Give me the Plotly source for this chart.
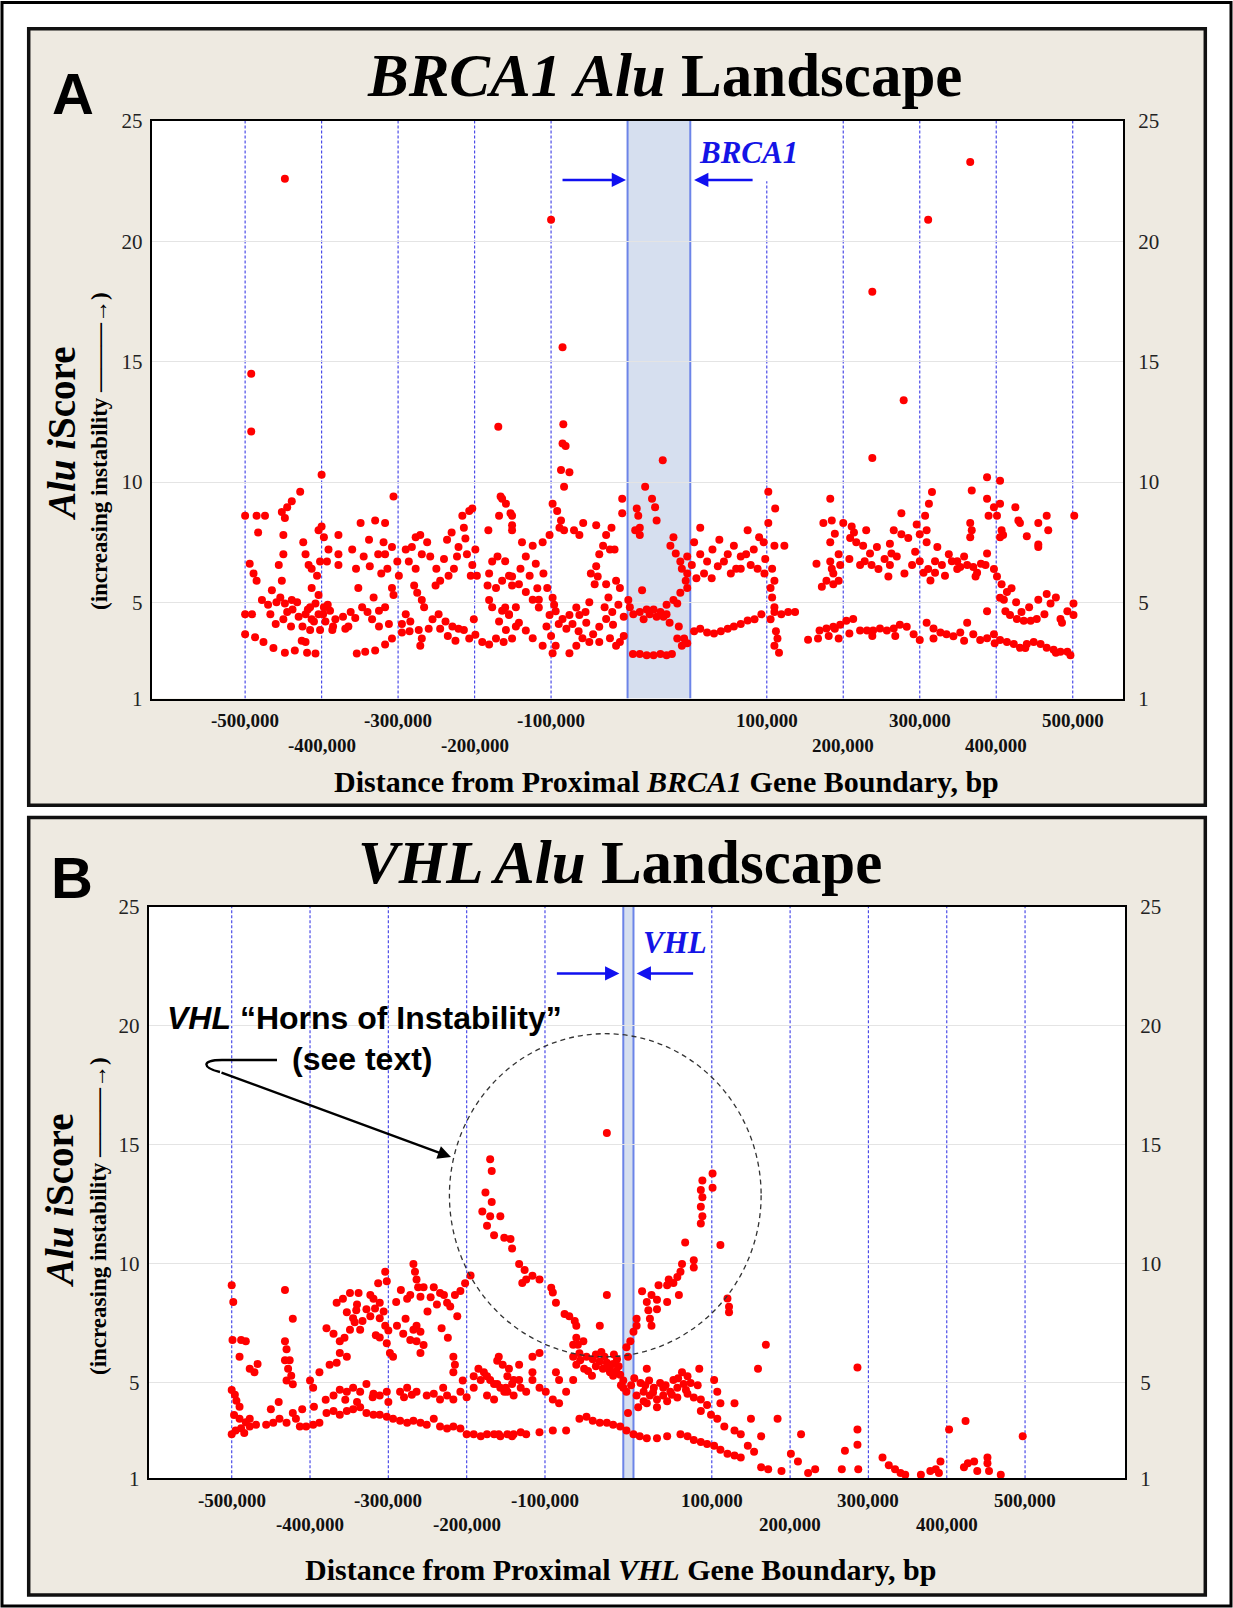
import plotly.graph_objects as go

W, H = 1233, 1608
MT, MB = 14, 12            # top / bottom figure margins (pixels)

# ---------------- DATA ----------------
# Positions are in kb relative to the start of the gene (gene body spans 0..gene length);
# scores are Alu iScore values.
BRCA1_GENE_KB = 82
VHL_GENE_KB = 13

tick_distances_bp = [-500000, -400000, -300000, -200000, -100000,
                     100000, 200000, 300000, 400000, 500000]
tick_labels = ["-500,000", "-400,000", "-300,000", "-200,000", "-100,000",
               "100,000", "200,000", "300,000", "400,000", "500,000"]
tick_row = [0, 1, 0, 1, 0, 0, 1, 0, 1, 0]   # 0 = upper label row, 1 = lower label row
y_ticks = [1, 5, 10, 15, 20, 25]

brca1_outliers = [(-448, 22.6), (-492, 14.5), (-492, 12.1), (-400, 10.3), (-169, 12.3), (-306, 9.4),
                  (-428, 9.6), (-100, 20.9), (-85, 15.6), (-84, 12.4), (-85, 11.6), (-81, 11.5),
                  (-87, 10.5), (-76, 10.4), (-83, 9.8), (46, 10.9), (448, 23.3), (393, 20.9),
                  (320, 17.9), (361, 13.4), (320, 11.0)]

brca1_up_far = [(-500, 8.6), (-485, 8.6), (-474, 8.6), (-483, 7.9), (-494, 6.6), (-489, 6.2), (-485, 5.9),
                (-500, 4.5), (-491, 4.5), (-500, 3.67), (-487, 3.55), (-476, 3.35), (-463, 3.1), (-448, 2.9),
                (-435, 3.0), (-426, 3.4), (-465, 5.5), (-454, 5.2), (-448, 4.95), (-439, 5.1), (-450, 4.3),
                (-467, 4.5), (-459, 5.0), (-452, 5.9), (-456, 6.55), (-450, 7.0), (-450, 7.8), (-448, 8.5),
                (-445, 8.95), (-439, 9.2), (-452, 8.75), (-424, 7.5), (-421, 7.0), (-417, 6.55), (-413, 6.4),
                (-413, 5.6), (-406, 6.1), (-404, 5.3), (-408, 4.95), (-415, 4.8), (-421, 4.5), (-413, 4.3),
                (-404, 4.5), (-397, 4.8), (-395, 4.2), (-389, 4.65), (-382, 4.3), (-386, 3.85), (-402, 3.85),
                (-415, 3.85), (-421, 3.35), (-408, 2.87), (-419, 2.9), (-404, 8.0), (-397, 7.7), (-391, 7.2),
                (-378, 7.8), (-378, 7.0), (-378, 6.55), (-393, 6.7), (-402, 6.7), (-400, 8.15),
                (-349, 8.3), (-330, 8.4), (-317, 8.3), (-338, 7.6), (-319, 7.5), (-317, 7.0), (-314, 6.4),
                (-308, 7.3), (-301, 6.7), (-299, 6.1), (-308, 5.6), (-306, 5.3), (-317, 4.8), (-325, 4.65),
                (-334, 4.3), (-347, 4.8), (-352, 5.6), (-356, 4.35), (-365, 4.0), (-369, 3.9), (-354, 2.87),
                (-343, 2.95), (-330, 3.0), (-317, 3.25), (-308, 3.5), (-295, 3.75), (-325, 4.0), (-312, 4.1),
                (-332, 5.2), (-438, 4.7), (-430, 4.4), (-425, 4.0), (-418, 4.7), (-410, 4.2), (-398, 4.5),
                (-392, 4.9), (-385, 4.0), (-440, 4.0), (-432, 5.0), (-445, 4.6), (-470, 4.9), (-478, 5.1),
                (-460, 4.1), (-372, 4.4), (-362, 4.6), (-340, 4.6), (-360, 7.2), (-355, 6.4), (-345, 6.9),
                (-337, 6.5), (-326, 7.0), (-322, 6.2)]

brca1_up_mid = [(-290, 7.2), (-286, 6.7), (-282, 7.3), (-277, 7.7), (-271, 7.8), (-269, 7.0), (-277, 6.4),
                (-279, 5.7), (-275, 5.4), (-269, 5.1), (-266, 4.8), (-290, 4.5), (-284, 4.2), (-273, 3.85),
                (-269, 3.5), (-271, 3.2), (-255, 4.3), (-247, 4.5), (-238, 4.2), (-229, 4.0), (-221, 3.9),
                (-251, 5.7), (-245, 5.9), (-234, 6.1), (-227, 6.4), (-223, 6.9), (-221, 7.3), (-214, 8.1),
                (-216, 8.6), (-207, 8.8), (-203, 8.9), (-212, 7.65), (-210, 7.0), (-203, 6.55), (-199, 7.2),
                (-205, 6.1), (-197, 6.1), (-214, 3.85), (-207, 3.5), (-199, 3.65), (-201, 4.3), (-190, 3.35),
                (-181, 3.25), (-182, 8.0), (-166, 9.4), (-159, 9.1), (-177, 6.7), (-170, 6.9), (-181, 6.2),
                (-183, 5.7), (-172, 5.6), (-164, 5.9), (-155, 6.1), (-151, 5.7), (-181, 5.1), (-177, 4.8),
                (-164, 4.65), (-155, 4.5), (-146, 4.8), (-168, 4.2), (-159, 3.85), (-146, 4.0), (-172, 3.5),
                (-162, 3.35), (-151, 3.5), (-168, 8.6), (-153, 8.7), (-151, 8.2), (-262, 7.5), (-258, 6.9),
                (-250, 6.4), (-240, 6.8), (-236, 7.6), (-230, 7.9), (-245, 3.9), (-235, 3.6), (-225, 3.4),
                (-260, 3.9), (-285, 3.8), (-295, 4.1)]

brca1_up_near = [(-164, 9.3), (-151, 8.6), (-151, 8.0), (-138, 7.5), (-124, 7.35), (-111, 7.5), (-102, 7.8),
                 (-98, 9.1), (-92, 8.8), (-87, 8.4), (-89, 8.1), (-83, 8.0), (-58, 8.3), (-41, 8.2), (-63, 7.8),
                 (-70, 8.0), (-21, 8.1), (-28, 7.8), (-32, 7.35), (-23, 7.2), (-17, 7.2), (-37, 7.0), (-41, 6.5),
                 (-39, 6.07), (-48, 6.2), (-43, 5.75), (-28, 5.75), (-15, 5.9), (-10, 5.6), (-160, 6.71),
                 (-151, 6.07), (-142, 5.75), (-133, 5.43), (-124, 5.11), (-116, 4.79), (-160, 4.79),
                 (-155, 4.47), (-142, 4.15), (-133, 3.83), (-124, 3.51), (-111, 3.2), (-98, 2.88), (-94, 3.2),
                 (-76, 2.88), (-67, 3.2), (-59, 3.51), (-50, 3.35), (-37, 3.35), (-23, 3.51), (-10, 3.35),
                 (-118, 5.59), (-116, 5.11), (-102, 4.47), (-94, 4.63), (-85, 4.31), (-76, 4.47), (-67, 4.79),
                 (-63, 4.47), (-54, 4.15), (-45, 3.67), (-37, 3.99), (-28, 4.31), (-19, 4.07), (-98, 5.19),
                 (-7, 9.3), (-7, 8.7), (-100, 3.6), (-96, 4.9), (-106, 4.0), (-140, 6.4), (-133, 6.9),
                 (-128, 6.1), (-120, 6.6), (-110, 6.2), (-105, 5.6), (-90, 4.1), (-80, 3.9), (-72, 4.1),
                 (-64, 3.8), (-55, 4.6), (-50, 5.0), (-30, 4.8), (-25, 5.2), (-20, 4.6), (-12, 4.9), (-5, 4.4),
                 (-5, 3.6), (-15, 3.2)]

brca1_intragenic = [(23, 9.8), (32, 9.3), (36, 8.95), (38, 8.4), (12, 8.9), (14, 8.6), (16, 8.1), (10, 8.0),
                    (16, 7.8), (1, 5.1), (3, 4.8), (7.5, 4.5), (16, 4.6), (25, 4.7), (34, 4.7), (43, 4.6),
                    (51, 4.5), (21, 4.3), (38, 4.4), (55, 4.15), (51, 4.9), (60, 5.1), (19, 5.5), (29, 4.5),
                    (47, 4.4), (7, 2.85), (16, 2.85), (25, 2.8), (34, 2.8), (43, 2.85), (51, 2.8), (58, 2.85),
                    (60, 7.7), (56, 7.35), (63, 7.03), (69, 6.7), (78, 6.9), (71, 6.4), (78, 6.2), (76, 5.9),
                    (69, 5.4), (78, 5.6), (65, 4.95), (67, 4.0), (74, 3.5), (71, 3.2), (78, 3.3), (65, 3.5)]

brca1_down_near = [(84, 6.55), (95, 8.1), (87, 7.5), (95, 7.0), (104, 6.7), (111, 7.2), (118, 6.5), (131, 7.0),
                   (139, 7.35), (148, 6.9), (157, 8.0), (155, 7.0), (161, 6.55), (170, 6.4), (179, 6.2),
                   (148, 6.4), (142, 6.4), (87, 3.8), (95, 3.9), (104, 3.75), (113, 3.7), (122, 3.8), (131, 3.9),
                   (139, 4.0), (148, 4.1), (157, 4.25), (166, 4.3), (175, 4.5), (192, 4.6), (201, 4.5),
                   (210, 4.6), (219, 4.6), (184, 9.6), (193, 8.9), (184, 8.3), (178, 7.5), (192, 7.35),
                   (205, 7.35), (180, 6.8), (189, 6.4), (192, 5.9), (187, 5.6), (189, 5.2), (192, 4.8),
                   (187, 4.3), (194, 3.8), (196, 3.5), (192, 3.2), (198, 2.9), (265, 9.3), (267, 8.4),
                   (271, 7.85), (265, 7.5), (247, 6.6), (254, 5.65), (267, 6.4), (276, 5.9), (271, 3.9),
                   (263, 3.6), (249, 3.5), (236, 3.45), (276, 3.5), (256, 8.3), (265, 6.7), (269, 6.2),
                   (260, 5.9), (269, 5.75), (276, 7.0), (278, 6.55), (90, 6.0), (100, 6.2), (110, 6.0),
                   (120, 7.6), (126, 6.7), (135, 6.2), (165, 7.2), (172, 7.7)]

brca1_down_far = [(358, 8.7), (389, 8.6), (394, 9.1), (470, 9.3), (479, 8.95), (487, 9.1), (472, 8.6),
                  (483, 8.6), (507, 8.95), (511, 8.4), (513, 8.3), (448, 8.3), (450, 8.0), (448, 7.7),
                  (489, 8.0), (491, 7.8), (487, 7.7), (522, 7.75), (537, 8.3), (548, 8.6), (550, 8.0),
                  (537, 7.4), (537, 7.3), (584, 8.6), (470, 10.2), (487, 10.05), (450, 9.65), (398, 9.58),
                  (282, 8.3), (293, 8.15), (291, 7.67), (299, 7.5), (308, 7.35), (317, 7.03), (310, 6.71),
                  (319, 6.55), (328, 6.39), (304, 6.55), (343, 7.43), (345, 7.03), (343, 6.55), (341, 6.07),
                  (348, 7.99), (358, 7.83), (367, 7.67), (378, 8.23), (382, 7.83), (391, 7.99), (391, 7.5),
                  (372, 6.55), (382, 6.71), (387, 6.23), (393, 6.39), (396, 5.91), (402, 6.71), (402, 6.23),
                  (411, 6.55), (424, 6.71), (431, 6.71), (431, 6.39), (435, 6.47), (444, 6.55), (452, 6.47),
                  (457, 6.23), (455, 6.07), (470, 7.03), (468, 6.55), (479, 6.39), (483, 6.07), (489, 5.75),
                  (496, 5.43), (502, 5.59), (492, 5.11), (470, 4.63), (487, 5.19), (494, 4.63), (500, 4.47),
                  (509, 4.31), (518, 4.23), (527, 4.23), (535, 4.31), (537, 5.11), (548, 5.35), (553, 4.95),
                  (566, 4.31), (575, 4.63), (583, 4.95), (583, 4.47), (568, 4.15), (251, 3.83), (260, 3.91),
                  (269, 3.99), (278, 4.07), (286, 4.23), (295, 4.31), (304, 3.83), (313, 3.83), (321, 3.83),
                  (330, 3.91), (339, 3.83), (348, 3.91), (356, 4.07), (365, 3.99), (374, 3.67), (382, 3.43),
                  (391, 4.15), (400, 3.91), (409, 3.75), (417, 3.67), (426, 3.59), (435, 3.75), (444, 4.15),
                  (452, 3.67), (461, 3.43), (470, 3.51), (479, 3.67), (487, 3.43), (496, 3.35), (505, 3.27),
                  (513, 3.11), (522, 3.27), (531, 3.35), (540, 3.27), (548, 3.11), (557, 3.03), (566, 2.95),
                  (575, 2.95), (579, 2.8), (290, 6.8), (296, 7.9), (312, 8.0), (326, 7.3), (336, 6.8),
                  (352, 6.9), (362, 6.2), (376, 7.1), (405, 7.3), (415, 6.1), (420, 7.0), (440, 6.9),
                  (462, 6.6), (508, 5.0), (515, 4.6), (525, 4.8), (545, 4.5), (560, 5.2), (290, 3.7),
                  (320, 3.6), (350, 3.6), (400, 3.5), (440, 3.4), (480, 3.3), (520, 3.1), (560, 2.9)]

vhl_outliers = [(-21, 15.5), (-21, 8.7), (-30, 7.4)]

vhl_up_far = [(-500, 9.1), (-498, 8.4), (-499, 6.8), (-488, 6.8), (-482, 6.75), (-490, 6.1), (-477, 5.6),
              (-471, 5.45), (-467, 5.8), (-500, 4.7), (-496, 4.5), (-494, 4.25), (-490, 4.0), (-497, 3.65),
              (-490, 3.5), (-482, 3.35), (-477, 3.5), (-500, 2.85), (-495, 3.0), (-488, 3.1), (-484, 2.9),
              (-477, 3.17), (-469, 3.25), (-456, 3.25), (-447, 3.33), (-439, 3.5), (-430, 3.33), (-422, 3.74),
              (-418, 3.5), (-413, 3.17), (-405, 3.17), (-396, 3.25), (-388, 3.33), (-379, 3.74), (-370, 3.82),
              (-362, 3.66), (-353, 3.82), (-345, 3.9), (-336, 3.98), (-328, 3.74), (-319, 3.66),
              (-432, 8.9), (-422, 7.7), (-432, 6.75), (-430, 6.42), (-432, 5.95), (-426, 5.95), (-428, 5.6),
              (-424, 5.3), (-430, 5.1), (-422, 4.95), (-400, 5.1), (-396, 4.8), (-379, 7.3), (-370, 7.07),
              (-362, 6.75), (-356, 6.9), (-349, 7.23), (-343, 7.55), (-336, 7.23), (-362, 6.26), (-353, 6.1),
              (-366, 5.85), (-375, 5.77), (-388, 5.45), (-366, 8.37), (-358, 8.54), (-349, 8.78), (-338, 8.78),
              (-353, 7.97), (-341, 8.05), (-345, 7.72), (-323, 8.7), (-319, 8.54), (-317, 8.13), (-323, 7.8),
              (-311, 8.37), (-313, 9.19), (-304, 9.67), (-302, 9.27), (-311, 7.72), (-304, 7.4), (-311, 6.91),
              (-302, 6.67), (-298, 6.26), (-294, 6.1), (-370, 4.47), (-362, 4.72), (-353, 4.63), (-345, 4.8),
              (-336, 4.63), (-328, 4.96), (-319, 4.55), (-311, 4.47), (-302, 4.63), (-311, 3.66),
              (-302, 3.58), (-340, 8.3), (-333, 7.6), (-328, 8.1), (-316, 7.0), (-306, 8.0), (-300, 7.2),
              (-450, 3.9), (-440, 4.2), (-410, 3.9), (-395, 4.0), (-380, 4.3), (-355, 4.3), (-340, 4.2),
              (-320, 4.4), (-300, 4.2)]

vhl_up_mid = [(-289, 7.4), (-281, 7.07), (-268, 7.23), (-259, 7.15), (-264, 6.75), (-255, 6.59), (-259, 6.26),
              (-264, 7.4), (-268, 10.0), (-266, 9.67), (-264, 9.35), (-262, 9.02), (-259, 8.62), (-276, 8.54),
              (-272, 8.7), (-255, 9.02), (-242, 9.02), (-234, 8.78), (-229, 8.7), (-225, 8.37), (-221, 8.21),
              (-215, 8.7), (-208, 8.86), (-202, 9.19), (-195, 9.51), (-217, 6.1), (-215, 5.77), (-217, 5.45),
              (-285, 4.63), (-276, 4.8), (-264, 4.63), (-251, 4.47), (-242, 4.55), (-234, 4.31), (-225, 4.47),
              (-217, 4.31), (-208, 4.63), (-191, 4.8), (-182, 5.12), (-174, 5.28), (-165, 4.96), (-157, 4.8),
              (-148, 4.63), (-140, 4.47), (-185, 5.6), (-178, 5.45), (-170, 5.12), (-161, 4.96), (-152, 4.63),
              (-161, 5.93), (-191, 5.28), (-174, 4.47), (-165, 4.31), (-148, 5.28), (-140, 5.12), (-131, 4.8),
              (-294, 3.5), (-285, 3.41), (-276, 3.33), (-268, 3.41), (-259, 3.33), (-251, 3.25), (-242, 3.5),
              (-234, 3.17), (-225, 3.09), (-217, 3.17), (-208, 3.09), (-200, 2.85), (-191, 2.85), (-182, 2.76),
              (-174, 2.85), (-165, 2.85), (-157, 2.76), (-148, 2.85), (-140, 2.85), (-131, 2.93),
              (-170, 14.4), (-168, 13.9), (-176, 13.0), (-168, 12.6), (-180, 12.2), (-170, 12.0), (-157, 12.0),
              (-174, 11.6), (-165, 11.2), (-152, 11.1), (-290, 8.4), (-284, 8.9), (-278, 7.7), (-272, 6.8),
              (-250, 8.0), (-246, 8.6), (-238, 8.3), (-232, 7.3), (-224, 6.9), (-212, 7.8), (-280, 4.4),
              (-270, 4.5), (-230, 4.8), (-205, 5.1), (-200, 4.4)]

vhl_up_near = [(-144, 11.05), (-142, 10.65), (-133, 10.0), (-126, 9.75), (-124, 9.35), (-116, 9.5), (-107, 9.35),
               (-129, 9.2), (-92, 9.0), (-90, 8.8), (-86, 8.37), (-75, 7.9), (-69, 7.8), (-62, 7.6), (-60, 7.4),
               (-60, 6.9), (-58, 6.6), (-56, 6.25), (-64, 6.6), (-51, 6.75), (-47, 6.1), (-39, 6.0), (-30, 5.9),
               (-21, 5.85), (-13, 5.8), (-9, 5.5), (-4, 5.35), (0, 5.1), (-26, 5.6), (-17, 5.45), (-13, 5.3),
               (-35, 5.7), (-8, 6.0), (-159, 6.1), (-154, 5.77), (-146, 5.6), (-133, 5.12), (-124, 4.63),
               (-116, 5.12), (-116, 5.45), (-107, 4.8), (-99, 4.63), (-90, 4.31), (-82, 4.15), (-73, 4.63),
               (-64, 5.12), (-60, 5.77), (-86, 5.45), (-82, 5.12), (-107, 6.26), (-116, 6.1), (-133, 5.77),
               (-142, 4.96), (-150, 4.8), (-64, 6.1), (0, 4.8), (-159, 2.85), (-142, 2.76), (-124, 2.85),
               (-107, 2.93), (-90, 3.0), (-73, 3.0), (-56, 3.5), (-47, 3.58), (-39, 3.41), (-30, 3.33),
               (-21, 3.33), (-13, 3.25), (-4, 3.17), (-55, 5.95), (-50, 5.6), (-45, 5.5), (-40, 5.3),
               (-35, 6.2), (-28, 6.3), (-24, 6.1), (-18, 5.6), (-12, 6.2), (-6, 5.7), (-3, 4.9)]

vhl_intragenic = [(4, 4.63), (6, 3.74), (4, 3.0), (6, 6.1), (4, 6.5), (9, 6.75), (13, 2.85)]

vhl_down = [(101, 13.5), (99, 13.1), (101, 12.8), (99, 12.4), (101, 12.0), (99, 11.7), (114, 13.8), (114, 13.2),
            (124, 10.8), (79, 10.9), (90, 10.15), (90, 9.85), (75, 10.0), (73, 9.67), (69, 9.45), (64, 9.2),
            (58, 9.35), (56, 9.1), (45, 9.1), (71, 8.7), (56, 8.4), (43, 8.5), (36, 8.7), (30, 8.4), (32, 8.05),
            (34, 7.7), (36, 7.4), (43, 8.1), (24, 8.85), (17, 7.7), (17, 7.4), (13, 7.15),
            (133, 8.55), (135, 8.2), (135, 7.97), (182, 6.6), (172, 5.6), (30, 5.6), (97, 5.6),
            (17, 4.47), (26, 4.63), (34, 4.47), (43, 4.31), (51, 4.47), (60, 4.63), (69, 4.8), (77, 4.96),
            (82, 5.28), (75, 5.45), (64, 5.12), (51, 4.8), (39, 4.8), (26, 4.23), (19, 3.98), (30, 4.15),
            (43, 3.98), (56, 4.23), (69, 4.39), (82, 4.55), (90, 4.39), (99, 4.31), (107, 4.07), (116, 5.12),
            (120, 4.63), (124, 4.15), (142, 4.15), (21, 2.76), (30, 2.68), (43, 2.68), (56, 2.76), (73, 2.85),
            (82, 2.76), (90, 2.6), (99, 2.52), (107, 2.44), (116, 2.36), (124, 2.2), (133, 2.03), (142, 1.95),
            (150, 1.87), (159, 2.36), (167, 2.11), (176, 1.46), (185, 1.38), (202, 1.3), (214, 2.03),
            (223, 1.7), (227, 2.85), (236, 1.22), (245, 1.38), (99, 3.82), (112, 3.66), (120, 3.5),
            (129, 3.17), (142, 3.0), (150, 2.85), (163, 3.5), (176, 2.76), (197, 3.5),
            (299, 5.65), (299, 3.05), (299, 2.4), (283, 2.15), (279, 1.38), (300, 1.38), (331, 1.87),
            (339, 1.54), (347, 1.38), (354, 1.22), (360, 1.14), (380, 1.14), (392, 1.3), (399, 1.38),
            (405, 1.7), (403, 1.22), (416, 3.05), (437, 3.4), (435, 1.46), (440, 1.63), (448, 1.7),
            (452, 1.3), (465, 1.87), (465, 1.63), (467, 1.3), (482, 1.14), (510, 2.76),
            (10, 4.9), (14, 5.2), (22, 5.0), (28, 4.9), (33, 5.1), (38, 4.6), (47, 5.0), (54, 4.9),
            (62, 4.5), (70, 5.2), (80, 4.7), (86, 5.0), (95, 4.9)]


# ---------------- HELPERS ----------------
def px(x):
    return x / W


def py(y):
    # picture pixel row -> paper fraction (paper spans the area inside the top/bottom margins)
    return 1 - (y - MT) / (H - MT - MB)


def unzip(*groups):
    xs, ys = [], []
    for g in groups:
        for a, b in g:
            xs.append(a)
            ys.append(b)
    return xs, ys


def tick_positions(gene_kb):
    return [d / 1000 if d < 0 else gene_kb + d / 1000 for d in tick_distances_bp]


SERIF = "Liberation Serif"
SANS = "Liberation Sans"
RED = "#FF0000"
BLUE_TXT = "#1414E6"
BEIGE = "#EEEAE1"
MSIZE = 8

fig = go.Figure()

ax_, ay_ = unzip(brca1_up_far, brca1_up_mid, brca1_up_near, brca1_intragenic,
                 brca1_down_near, brca1_down_far, brca1_outliers)
fig.add_trace(go.Scatter(x=ax_, y=ay_, mode="markers", xaxis="x", yaxis="y",
                         marker=dict(color=RED, size=MSIZE, line=dict(width=0)),
                         showlegend=False, hoverinfo="skip"))
bx_, by_ = unzip(vhl_up_far, vhl_up_mid, vhl_up_near, vhl_intragenic, vhl_down, vhl_outliers)
fig.add_trace(go.Scatter(x=bx_, y=by_, mode="markers", xaxis="x2", yaxis="y2",
                         marker=dict(color=RED, size=MSIZE, line=dict(width=0)),
                         showlegend=False, hoverinfo="skip"))
# empty traces so that the right-hand duplicate y axes are rendered
fig.add_trace(go.Scatter(x=[], y=[], xaxis="x", yaxis="y3", showlegend=False))
fig.add_trace(go.Scatter(x=[], y=[], xaxis="x2", yaxis="y4", showlegend=False))

tickfont = dict(family=SERIF, size=21, color="#222222")
ycommon = dict(range=[1, 25], tickmode="array", tickvals=y_ticks, ticks="", zeroline=False,
               tickfont=tickfont, fixedrange=True, automargin=False)
xcommon = dict(showticklabels=False, showgrid=False, zeroline=False, ticks="", automargin=False,
               showline=True, linecolor="black", linewidth=2, mirror=True, fixedrange=True)

# panel geometry (pixels of the picture)
A_plot = dict(l=151.8, r=1123.2, t=121, b=698.6)
B_plot = dict(l=148.7, r=1125.3, t=906.8, b=1478.2)

fig.update_layout(
    width=W, height=H, autosize=False,
    margin=dict(l=0, r=0, t=MT, b=MB, pad=0, autoexpand=False),
    paper_bgcolor="white", plot_bgcolor="white",
    xaxis=dict(domain=[px(A_plot["l"]), px(A_plot["r"])], range=[-622, 648], anchor="y", **xcommon),
    yaxis=dict(domain=[py(A_plot["b"]), py(A_plot["t"])], anchor="x", showgrid=True, gridcolor="#E4E4E4",
               showline=True, linecolor="black", linewidth=2, mirror=True, ticklabelstandoff=3, **ycommon),
    yaxis3=dict(overlaying="y", side="right", anchor="x", showgrid=False, showline=False,
                ticklabelstandoff=14, **ycommon),
    xaxis2=dict(domain=[px(B_plot["l"]), px(B_plot["r"])], range=[-606, 641], anchor="y2", **xcommon),
    yaxis2=dict(domain=[py(B_plot["b"]), py(B_plot["t"])], anchor="x2", showgrid=True, gridcolor="#E4E4E4",
                showline=True, linecolor="black", linewidth=2, mirror=True, ticklabelstandoff=3, **ycommon),
    yaxis4=dict(overlaying="y2", side="right", anchor="x2", showgrid=False, showline=False,
                ticklabelstandoff=14, **ycommon),
)

shapes = []
# outer border of the whole picture
shapes.append(dict(type="rect", xref="paper", yref="paper", x0=px(2), x1=px(W - 2), y0=py(H - 2),
                   y1=py(2.5), line=dict(color="black", width=3), fillcolor="rgba(0,0,0,0)", layer="below"))
# beige panel boxes
for top, bot in [(28.7, 805.3), (817.6, 1595.0)]:
    shapes.append(dict(type="rect", xref="paper", yref="paper", x0=px(28.7), x1=px(1205.3),
                       y0=py(bot), y1=py(top), line=dict(color="#111111", width=3.5),
                       fillcolor=BEIGE, layer="below"))
# white plot areas
for xr, yr in [("x", "y"), ("x2", "y2")]:
    shapes.append(dict(type="rect", xref=xr + " domain", yref=yr + " domain", x0=0, x1=1, y0=0, y1=1,
                       line=dict(width=0), fillcolor="white", layer="below"))
# gene bodies
for xr, yr, glen in [("x", "y", BRCA1_GENE_KB), ("x2", "y2", VHL_GENE_KB)]:
    shapes.append(dict(type="rect", xref=xr, yref=yr, x0=0, x1=glen, y0=1, y1=25,
                       line=dict(width=0), fillcolor="#D6DFEF", layer="below"))
    for gx in (0, glen):
        shapes.append(dict(type="line", xref=xr, yref=yr, x0=gx, x1=gx, y0=1, y1=25,
                           line=dict(color="#6C84E8", width=2), layer="below"))
# dashed 100 kb guide lines
for xr, yr, glen in [("x", "y", BRCA1_GENE_KB), ("x2", "y2", VHL_GENE_KB)]:
    for d, tx in zip(tick_distances_bp, tick_positions(glen)):
        top = 22.5 if (xr == "x" and d == 100000) else 25
        shapes.append(dict(type="line", xref=xr, yref=yr, x0=tx, x1=tx, y0=1, y1=top,
                           line=dict(color="#4B4BE8", width=1.2, dash="3px,2px"), layer="below"))
# dashed circle around the VHL "horns"
shapes.append(dict(type="circle", xref="x2", yref="y2", x0=-222, x1=176, y0=6.1, y1=19.67,
                   line=dict(color="#333333", width=1.3, dash="5px,4px"), layer="above"))
# hook of the call-out arrow
hook = [(277, 1060), (222, 1060), (200, 1060), (203, 1068), (220, 1072)]
hp = [(px(a), py(b)) for a, b in hook]
shapes.append(dict(type="path", xref="paper", yref="paper",
                   path=f"M {hp[0][0]},{hp[0][1]} L {hp[1][0]},{hp[1][1]} "
                        f"C {hp[2][0]},{hp[2][1]} {hp[3][0]},{hp[3][1]} {hp[4][0]},{hp[4][1]}",
                   line=dict(color="black", width=2.4), layer="above"))

ann = []
# panel letters
ann.append(dict(text="<b>A</b>", x=px(73), y=py(93), xref="paper", yref="paper", showarrow=False,
                font=dict(family=SANS, size=58, color="black"), xanchor="center", yanchor="middle"))
ann.append(dict(text="<b>B</b>", x=px(72), y=py(877), xref="paper", yref="paper", showarrow=False,
                font=dict(family=SANS, size=58, color="black"), xanchor="center", yanchor="middle"))
# titles
ann.append(dict(text="<b><i>BRCA1 Alu</i> Landscape</b>", x=px(664), y=py(75), xref="paper", yref="paper",
                showarrow=False, font=dict(family=SERIF, size=61, color="black"),
                xanchor="center", yanchor="middle"))
ann.append(dict(text="<b><i>VHL Alu</i> Landscape</b>", x=px(620), y=py(862), xref="paper", yref="paper",
                showarrow=False, font=dict(family=SERIF, size=61, color="black"),
                xanchor="center", yanchor="middle"))
# y axis titles
for x1, y1, x2, y2 in [(62, 434, 99, 451), (59, 1201, 98, 1216)]:
    ann.append(dict(text="<b><i>Alu i</i>Score</b>", x=px(x1), y=py(y1), xref="paper", yref="paper",
                    showarrow=False, textangle=-90, font=dict(family=SERIF, size=39, color="black"),
                    xanchor="center", yanchor="middle"))
    ann.append(dict(text="<b>(increasing instability ———→)</b>", x=px(x2), y=py(y2), xref="paper",
                    yref="paper", showarrow=False, textangle=-90,
                    font=dict(family=SERIF, size=23, color="black"), xanchor="center", yanchor="middle"))
# x tick labels (two staggered rows) and x axis titles
for xr, glen, rows, title, ty in [
        ("x", BRCA1_GENE_KB, (721, 746), "<b>Distance from Proximal <i>BRCA1</i> Gene Boundary, bp</b>", 782),
        ("x2", VHL_GENE_KB, (1500, 1524), "<b>Distance from Proximal <i>VHL</i> Gene Boundary, bp</b>", 1569)]:
    for tx, lab, row in zip(tick_positions(glen), tick_labels, tick_row):
        ann.append(dict(text=f"<b>{lab}</b>", x=tx, y=py(rows[row]), xref=xr, yref="paper",
                        showarrow=False, font=dict(family=SERIF, size=19, color="#111111"),
                        xanchor="center", yanchor="middle"))
    ann.append(dict(text=title, x=px(666 if xr == "x" else 620), y=py(ty), xref="paper", yref="paper",
                    showarrow=False, font=dict(family=SERIF, size=30, color="black"),
                    xanchor="center", yanchor="middle"))
# gene labels and boundary arrows
ann.append(dict(text="<b><i>BRCA1</i></b>", x=158, y=23.7, xref="x", yref="y", showarrow=False,
                font=dict(family=SERIF, size=31, color=BLUE_TXT), xanchor="center", yanchor="middle"))
ann.append(dict(text="<b><i>VHL</i></b>", x=66, y=23.5, xref="x2", yref="y2", showarrow=False,
                font=dict(family=SERIF, size=31, color=BLUE_TXT), xanchor="center", yanchor="middle"))
for xr, yr, hx, hy, dx in [("x", "y", -2, 22.55, -65), ("x", "y", BRCA1_GENE_KB + 5, 22.55, 60),
                           ("x2", "y2", -5, 22.2, -64), ("x2", "y2", VHL_GENE_KB + 4, 22.2, 58)]:
    ann.append(dict(text="", x=hx, y=hy, xref=xr, yref=yr, showarrow=True, ax=dx, ay=0,
                    arrowhead=2, arrowsize=1.1, arrowwidth=2.6, arrowcolor="#1010F0"))
# VHL horns call-out
ann.append(dict(text="<b><i>VHL</i> “Horns of Instability”</b>", x=px(364), y=py(1018), xref="paper",
                yref="paper", showarrow=False, font=dict(family=SANS, size=32, color="black"),
                xanchor="center", yanchor="middle"))
ann.append(dict(text="<b>(see text)</b>", x=px(363), y=py(1059), xref="paper", yref="paper",
                showarrow=False, font=dict(family=SANS, size=32, color="black"),
                xanchor="center", yanchor="middle"))
ann.append(dict(text="", x=px(451), y=py(1157), xref="paper", yref="paper", showarrow=True,
                ax=-231, ay=-85, arrowhead=2, arrowsize=1.1, arrowwidth=2.4, arrowcolor="black"))

fig.update_layout(shapes=shapes, annotations=ann)
fig.write_html("out.html")
